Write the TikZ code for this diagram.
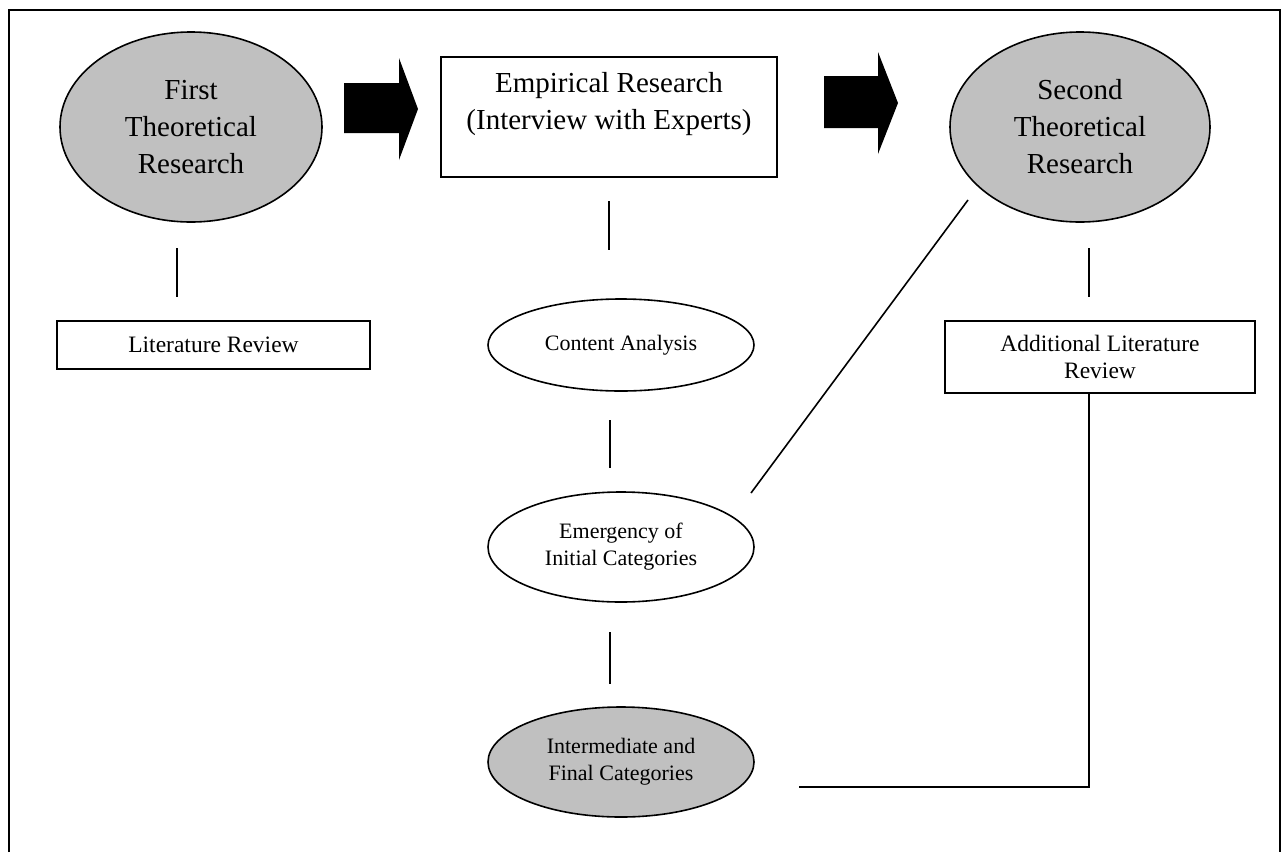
\documentclass[tikz,border=0pt]{standalone}
\usepackage{fontspec}
\setmainfont{Liberation Serif}
\usetikzlibrary{shapes.geometric}
\definecolor{shade}{RGB}{192,192,192}
\begin{document}
\begin{tikzpicture}[x=1pt,y=-1pt,
  bigtext/.style={font=\fontsize{29}{37}\selectfont, align=center, inner sep=0pt},
  smalltext/.style={font=\fontsize{22}{27}\selectfont, align=center, inner sep=0pt},
  boxtext/.style={font=\fontsize{23.5}{27}\selectfont, align=center, inner sep=0pt},
  outline/.style={draw=black, line width=1.6pt},
  grayell/.style={outline, ellipse, fill=shade, inner sep=0pt},
  whiteell/.style={outline, ellipse, fill=white, inner sep=0pt},
  boxnode/.style={outline, rectangle, fill=white, inner sep=0pt},
  link/.style={draw=black, line width=1.6pt},
  blockarrow/.style={fill=black}]
\useasboundingbox (0,0) rectangle (1282,852);
% frame (open at the bottom)
\draw[line width=2pt] (9,852) -- (9,10) -- (1280,10) -- (1280,852);

% top row
\node[grayell, bigtext, minimum width=262pt, minimum height=190pt] (first) at (191,127) {First\\Theoretical\\Research};
\node[boxnode, minimum width=336pt, minimum height=120pt] (emp) at (609,117) {};
\node[bigtext] (emptext) at (609,104) {Empirical Research\\(Interview with Experts)};
\node[grayell, bigtext, minimum width=260pt, minimum height=190pt] (second) at (1080,127) {Second\\Theoretical\\Research};

% block arrows
\fill[blockarrow] (344,83) -- (399,83) -- (399,58) -- (418,109) -- (399,160) -- (399,133) -- (344,133) -- cycle;
\fill[blockarrow] (824,76) -- (878,76) -- (878,52) -- (898,103) -- (878,154) -- (878,128) -- (824,128) -- cycle;

% left column
\node[boxnode, boxtext, minimum width=313pt, minimum height=48pt] (litrev) at (213.5,345) {Literature Review};
\coordinate (l1a) at (177,248);
\coordinate (l1b) at (177,297);
\draw[link] (l1a) -- (l1b);

% middle column
\node[whiteell, smalltext, minimum width=266pt, minimum height=92pt] (content) at (621,345) {Content Analysis};
\node[whiteell, smalltext, minimum width=266pt, minimum height=110pt] (emerg) at (621,547) {Emergency of\\Initial Categories};
\node[grayell, smalltext, minimum width=266pt, minimum height=110pt] (inter) at (621,762) {Intermediate and\\Final Categories};
\coordinate (m1a) at (609,201);
\coordinate (m1b) at (609,250);
\coordinate (m2a) at (610,420);
\coordinate (m2b) at (610,468);
\coordinate (m3a) at (610,632);
\coordinate (m3b) at (610,684);
\draw[link] (m1a) -- (m1b);
\draw[link] (m2a) -- (m2b);
\draw[link] (m3a) -- (m3b);

% right column
\node[boxnode, boxtext, minimum width=310pt, minimum height=72pt] (addlit) at (1100,357) {Additional Literature\\Review};
\coordinate (r1a) at (1089,248);
\coordinate (r1b) at (1089,297);
\draw[link] (r1a) -- (r1b);

% cross links
\coordinate (diagA) at (751,493);
\coordinate (diagB) at (968,200);
\draw[link] (diagA) -- (diagB);
\coordinate (bendR) at (1089,787);
\coordinate (interEnd) at (799,787);
\draw[link] (addlit.south -| bendR) -- (bendR) -- (interEnd);
\end{tikzpicture}
\end{document}
